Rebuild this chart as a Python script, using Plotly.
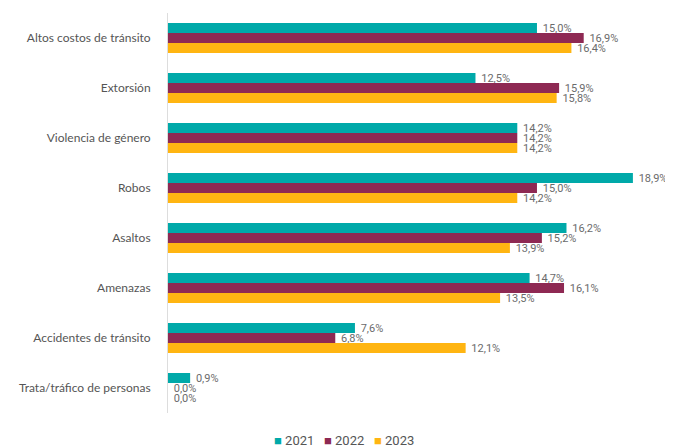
import plotly.graph_objects as go

categories = ["Altos costos de tránsito", "Extorsión", "Violencia de género", "Robos",
              "Asaltos", "Amenazas", "Accidentes de tránsito", "Trata/tráfico de personas"]
v2021 = [15.0, 12.5, 14.2, 18.9, 16.2, 14.7, 7.6, 0.9]
v2022 = [16.9, 15.9, 14.2, 15.0, 15.2, 16.1, 6.8, 0.0]
v2023 = [16.4, 15.8, 14.2, 14.2, 13.9, 13.5, 12.1, 0.0]
years = ["2021", "2022", "2023"]
colors = ["#00A9A9", "#8E2953", "#FFB512"]

def fmt(v):
    return f"{v:.1f}%".replace(".", ",")

LABEL_FONT = "Liberation Sans Narrow, Roboto, sans-serif"

fig = go.Figure()
for name, vals, c in zip(years, [v2021, v2022, v2023], colors):
    fig.add_trace(go.Bar(
        y=categories, x=vals, name=name, orientation="h",
        marker=dict(color=c, line=dict(width=0)),
        text=[" " + fmt(v) for v in vals], textposition="outside",
        constraintext="none",
        textfont=dict(family=LABEL_FONT, size=11, color="#6b6b6b"),
        cliponaxis=False,
    ))

legend_text = "&nbsp;&nbsp;&nbsp;".join(
    f"<span style='color:{c}'>■</span> {y}" for y, c in zip(years, colors))
fig.add_annotation(xref="paper", yref="paper", x=0.349, y=-0.068,
                   xanchor="center", yanchor="middle", showarrow=False,
                   text=legend_text,
                   font=dict(family=LABEL_FONT, size=13, color="#555555"))

fig.update_layout(
    width=665, height=440,
    barmode="group", bargap=0.4, bargroupgap=0,
    margin=dict(l=160, r=0, t=5, b=35, autoexpand=False),
    plot_bgcolor="white", paper_bgcolor="white",
    font=dict(family="Lato, sans-serif", color="#555555"),
    showlegend=False,
    xaxis=dict(range=[0, 20.53], visible=False, automargin=False),
    yaxis=dict(autorange="reversed", showline=True, linecolor="#dddddd", linewidth=1,
               ticks="", ticklabelstandoff=14, automargin=False,
               tickfont=dict(family="Lato, sans-serif", size=12, color="#555555")),
)
fig.write_html("out.html")
